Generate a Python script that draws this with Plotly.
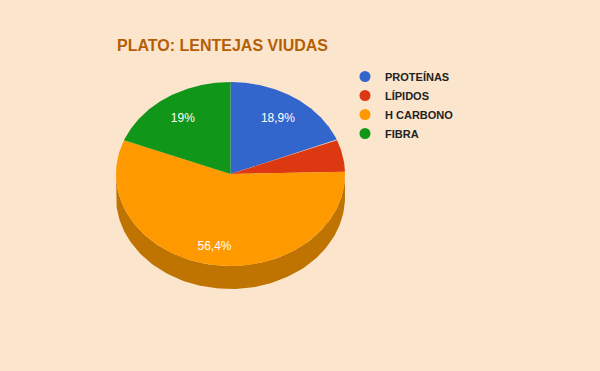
import numpy as np
import plotly.graph_objects as go

labels = ["PROTEÍNAS", "LÍPIDOS", "H CARBONO", "FIBRA"]
values = [18.9, 5.7, 56.4, 19.0]
text_labels = ["18,9%", "", "56,4%", "19%"]
colors = ["#3366cc", "#dc3912", "#ff9900", "#109618"]
side_colors = ["#264c99", "#a52b0e", "#bf7300", "#0c7012"]

W, H = 600, 371
cx, cy = 230.5, 174.0
rx, ry = 114.5, 92.0
depth = 23.0
BG = "#fce5cd"


def pt(theta_deg, dy=0.0, f=1.0):
    t = np.radians(theta_deg)
    return cx + f * rx * np.sin(t), cy - f * ry * np.cos(t) + dy


fig = go.Figure()

total = sum(values)
bounds = np.concatenate([[0], np.cumsum(values) / total * 360.0])

# side walls (visible front half: 90..270 deg)
for i in range(len(values)):
    a1, a2 = max(bounds[i], 90.0), min(bounds[i + 1], 270.0)
    if a2 <= a1:
        continue
    th = np.linspace(a1, a2, 120)
    xs_top, ys_top = pt(th)
    xs_bot, ys_bot = pt(th[::-1], dy=depth)
    xs = np.concatenate([xs_top, xs_bot, xs_top[:1]])
    ys = np.concatenate([ys_top, ys_bot, ys_top[:1]])
    fig.add_trace(go.Scatter(x=xs, y=ys, mode="lines", fill="toself",
                             fillcolor=side_colors[i], line=dict(width=0, color=side_colors[i]),
                             hoverinfo="skip", showlegend=False))

# top faces
for i in range(len(values)):
    th = np.linspace(bounds[i], bounds[i + 1], 200)
    xa, ya = pt(th)
    xs = np.concatenate([[cx], xa, [cx]])
    ys = np.concatenate([[cy], ya, [cy]])
    fig.add_trace(go.Scatter(x=xs, y=ys, mode="lines", fill="toself",
                             fillcolor=colors[i], line=dict(width=0, color=colors[i]),
                             hoverinfo="skip", showlegend=False))

# slice labels
mids = (bounds[:-1] + bounds[1:]) / 2
tx, ty, tt = [], [], []
for i, m in enumerate(mids):
    if not text_labels[i]:
        continue
    f = 0.74 if values[i] < 50 else 0.8
    x, y = pt(m, f=f)
    tx.append(x); ty.append(y + 1); tt.append(text_labels[i])
fig.add_trace(go.Scatter(x=tx, y=ty, mode="text", text=tt,
                         textfont=dict(family="Liberation Sans, Arial", size=12, color="#ffffff"),
                         hoverinfo="skip", showlegend=False))

# legend entries
for i, lab in enumerate(labels):
    fig.add_trace(go.Scatter(x=[None], y=[None], mode="markers", name=lab,
                             marker=dict(symbol="circle", size=11, color=colors[i])))

fig.update_layout(
    width=W, height=H,
    margin=dict(l=0, r=0, t=0, b=0),
    paper_bgcolor=BG, plot_bgcolor=BG,
    xaxis=dict(range=[0, W], visible=False, fixedrange=True),
    yaxis=dict(range=[H, 0], visible=False, fixedrange=True),
    showlegend=True,
    legend=dict(x=345 / W, y=1 - 62 / H, xanchor="left", yanchor="top",
                bgcolor="rgba(0,0,0,0)", tracegroupgap=0,
                font=dict(family="Liberation Sans, Arial", size=11, color="#222222",
                          weight="bold")),
    annotations=[dict(text="<b>PLATO: LENTEJAS VIUDAS</b>", xref="paper", yref="paper",
                      x=115 / W, y=1 - 45 / H, xanchor="left", yanchor="middle",
                      showarrow=False,
                      font=dict(family="Liberation Sans, Arial", size=16, color="#b45f06"))],
)

fig.write_html("out.html", config={"displayModeBar": False, "staticPlot": True},
               post_script="document.body.style.margin='0';document.body.style.background='" + BG + "';")
